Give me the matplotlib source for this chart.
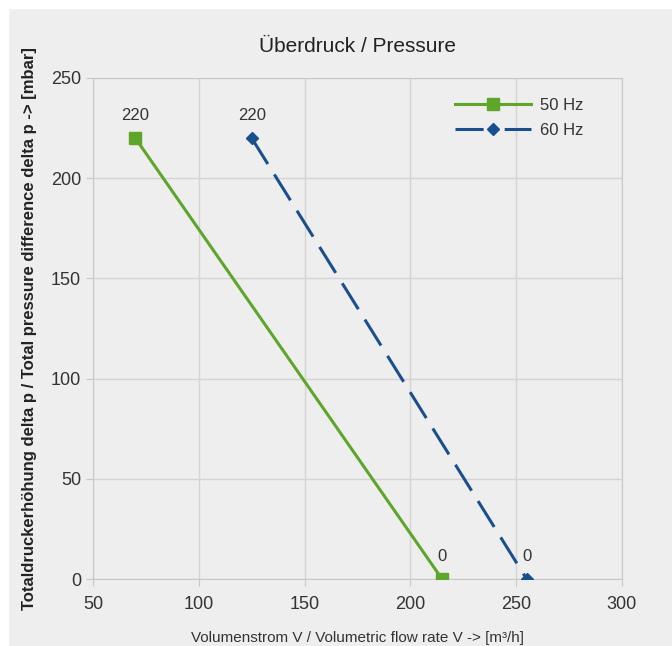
import matplotlib
matplotlib.use("Agg")
import matplotlib.pyplot as plt
from matplotlib.patches import Rectangle
from matplotlib.lines import Line2D

plt.rcParams["font.family"] = ["Liberation Sans", "DejaVu Sans"]

# data
flow_50 = [70, 215]
press_50 = [220, 0]
flow_60 = [125, 255]
press_60 = [220, 0]
labels_50 = ["220", "0"]
labels_60 = ["220", "0"]

bg = "#eeeeee"
green = "#5ea62a"
blue = "#1a4f8e"

fig = plt.figure(figsize=(6.72, 6.46), dpi=100, facecolor=bg)
# thin white strips on top and left like the screenshot
fig.patches.append(Rectangle((0, 0), 8 / 672, 1, transform=fig.transFigure, color="white", zorder=0))
fig.patches.append(Rectangle((0, 1 - 8 / 646), 1, 8 / 646, transform=fig.transFigure, color="white", zorder=0))

ax = fig.add_axes([0.1384, 0.1037, 0.787, 0.7756])
ax.set_facecolor(bg)

l50, = ax.plot(flow_50, press_50, color=green, lw=2.2, marker="s", ms=8, label="50 Hz", zorder=3)
ax.plot(flow_60, press_60, color=blue, lw=2.2, dashes=(10, 4), marker="D", ms=6, zorder=3)
# legend proxy so the dashes sit on both sides of the marker
l60 = Line2D([], [], color=blue, lw=2.2, linestyle=(0, (9.2, 6.9)), marker="D", ms=6, label="60 Hz")

for x, y, t in zip(flow_50, press_50, labels_50):
    ax.annotate(t, (x, y), xytext=(0, 11), textcoords="offset points", ha="center",
                va="bottom", fontsize=12, color="#333333")
for x, y, t in zip(flow_60, press_60, labels_60):
    ax.annotate(t, (x, y), xytext=(0, 11), textcoords="offset points", ha="center",
                va="bottom", fontsize=12, color="#333333")

ax.set_xlim(50, 300)
ax.set_ylim(0, 250)
ax.set_xticks(range(50, 301, 50))
ax.set_yticks(range(0, 251, 50))
ax.grid(True, color="#d4d4d4", lw=1)
ax.set_axisbelow(True)
for s in ax.spines.values():
    s.set_color("#c8c8c8")
ax.tick_params(colors="#c8c8c8", labelcolor="#333333", labelsize=13, length=5)
ax.tick_params(axis="x", pad=7)

ax.set_title("Überdruck / Pressure", fontsize=15, color="#222222", pad=19)
ax.set_xlabel("Volumenstrom V / Volumetric flow rate V -> [m³/h]", fontsize=11,
              color="#333333", labelpad=13)
ax.set_ylabel("Totaldruckerhöhung delta p / Total pressure difference delta p -> [mbar]",
              fontsize=12, fontweight="bold", color="#222222", labelpad=10)

leg = ax.legend(handles=[l50, l60], loc="upper right", bbox_to_anchor=(0.955, 0.99),
                frameon=False, fontsize=12, handlelength=4.6, handletextpad=0.5,
                labelspacing=0.6)
for t in leg.get_texts():
    t.set_color("#333333")

fig.savefig("out.png", dpi=100, facecolor=bg)
